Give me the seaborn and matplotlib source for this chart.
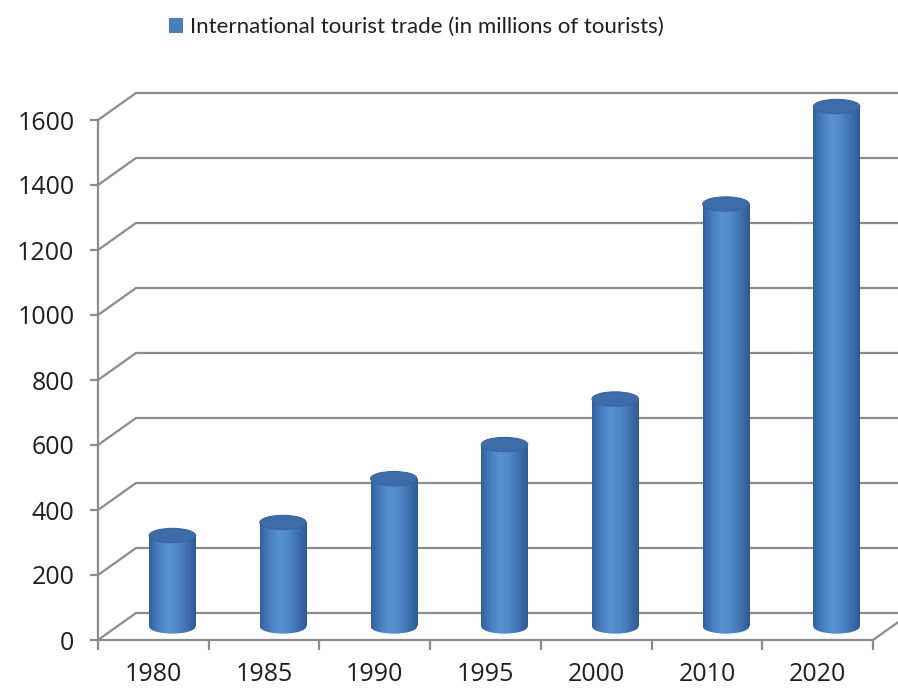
import numpy as np
import pandas as pd
import matplotlib
matplotlib.use("Agg")
import matplotlib.pyplot as plt
from matplotlib import font_manager
from matplotlib.colors import LinearSegmentedColormap
from matplotlib.patches import Ellipse, Rectangle, ConnectionPatch, Patch
import seaborn as sns

# ---- data -------------------------------------------------------------
years = ["1980", "1985", "1990", "1995", "2000", "2010", "2020"]
tourists = [280, 320, 455, 560, 700, 1300, 1600]
y_ticks = [0, 200, 400, 600, 800, 1000, 1200, 1400, 1600]
series_label = "International tourist trade (in millions of tourists)"

# ---- style ------------------------------------------------------------
sns.set_theme(style="white")
available = {f.name for f in font_manager.fontManager.ttflist}
tick_font = "Open Sans" if "Open Sans" in available else "DejaVu Sans"
legend_font = "Lato" if "Lato" in available else tick_font
plt.rcParams["font.family"] = [tick_font, "DejaVu Sans"]

GRID = "#8c8c8c"
TEXT = "#1f1f1f"
BAR = "#4a7ebb"
CAP = "#3d6ca9"
body_cmap = LinearSegmentedColormap.from_list(
    "cyl", ["#31619c", "#477dbf", "#5890d2", "#5088ca", "#3f71b0", "#2e5a91"]
)

W, H = 898, 688
DPI = 100
fig = plt.figure(figsize=(W / DPI, H / DPI), dpi=DPI, facecolor="white")

# 3-D box geometry (pixels): front plane, mid plane (bars), back wall
left, bottom, width, height = 98, 640, 775, 520
dx, dy = 38, 27
y_lo, y_hi = 0, 1600
px_per_unit = height / (y_hi - y_lo)


def plane(ox, oy, pad_lo=0.0, pad_hi=0.0):
    extra_lo = pad_lo * px_per_unit
    extra_hi = pad_hi * px_per_unit
    return [(left + ox) / W, 1 - (bottom - oy + extra_lo) / H,
            width / W, (height + extra_lo + extra_hi) / H]


cap_h = 44  # cylinder end ellipse height, data units
ax_back = fig.add_axes(plane(dx, dy), zorder=0)
ax_front = fig.add_axes(plane(0, 0), zorder=1)
ax_mid = fig.add_axes(plane(dx / 2, dy / 2, cap_h, cap_h), zorder=2)

for a in (ax_back, ax_front):
    a.set_xlim(-0.5, len(years) - 0.5)
    a.set_ylim(y_lo, y_hi)
    a.patch.set_alpha(0)
ax_mid.patch.set_alpha(0)

# back wall gridlines
ax_back.set_yticks(y_ticks)
ax_back.set_xticks([])
ax_back.yaxis.grid(True, color=GRID, lw=1.6)
ax_back.tick_params(left=False, labelleft=False)
for s in ax_back.spines.values():
    s.set_visible(False)
for gl in ax_back.get_ygridlines():
    gl.set_clip_on(False)

# front axes: value axis and floor edge
for s in ("top", "right"):
    ax_front.spines[s].set_visible(False)
for s in ("left", "bottom"):
    ax_front.spines[s].set_color(GRID)
    ax_front.spines[s].set_linewidth(1.6)
ax_front.set_yticks(y_ticks)
ax_front.set_yticklabels([str(v) for v in y_ticks])
ax_front.set_xticks(range(len(years)))
ax_front.set_xticklabels(years)
ax_front.set_xticks(np.arange(-0.5, len(years)), minor=True)
ax_front.tick_params(axis="y", direction="out", length=6, width=1.6, color=GRID,
                     labelsize=18, labelcolor=TEXT, pad=11, left=True)
ax_front.tick_params(axis="x", which="major", length=0, labelsize=18,
                     labelcolor=TEXT, pad=16, bottom=True)
ax_front.tick_params(axis="x", which="minor", direction="out", length=7,
                     width=1.6, color=GRID, bottom=True)

# side wall / floor diagonals
for v in y_ticks:
    fig.add_artist(ConnectionPatch(xyA=(-0.5, v), coordsA=ax_front.transData,
                                   xyB=(-0.5, v), coordsB=ax_back.transData,
                                   color=GRID, lw=1.6))
fig.add_artist(ConnectionPatch(xyA=(len(years) - 0.5, 0), coordsA=ax_front.transData,
                               xyB=(len(years) - 0.5, 0), coordsB=ax_back.transData,
                               color=GRID, lw=1.6))

# ---- cylinders ---------------------------------------------------------
df = pd.DataFrame({"year": years, "tourists": tourists})
sns.barplot(data=df, x="year", y="tourists", ax=ax_mid, color=BAR, width=0.42,
            saturation=1)
ax_mid.set_axis_off()

grad = np.linspace(0, 1, 256).reshape(1, -1)
for bar in ax_mid.patches:
    x0, w, h = bar.get_x(), bar.get_width(), bar.get_height()
    xc = x0 + w / 2
    bar.set_visible(False)
    body = Rectangle((x0, 0), w, h, transform=ax_mid.transData)
    im = ax_mid.imshow(grad, extent=(x0, x0 + w, 0, h), aspect="auto",
                       cmap=body_cmap, interpolation="bilinear", zorder=2)
    im.set_clip_path(body)
    base = Ellipse((xc, 0), w, cap_h, transform=ax_mid.transData)
    im2 = ax_mid.imshow(grad, extent=(x0, x0 + w, -cap_h / 2, 0), aspect="auto",
                        cmap=body_cmap, interpolation="bilinear", zorder=2)
    im2.set_clip_path(base)
    top = Ellipse((xc, h), w, cap_h, facecolor=CAP, edgecolor="#36659f",
                  lw=0.8, zorder=3)
    ax_mid.add_patch(top)

ax_mid.set_xlim(-0.5, len(years) - 0.5)
ax_mid.set_ylim(y_lo - cap_h, y_hi + cap_h)

# legend
fig.legend(handles=[Patch(facecolor=BAR, edgecolor="none")], labels=[series_label],
           loc="center left", bbox_to_anchor=(149 / W, 1 - 27 / H), frameon=False,
           handlelength=0.65, handleheight=0.65, handletextpad=0.3,
           prop={"family": [legend_font, "DejaVu Sans"], "size": 16},
           labelcolor=TEXT)

fig.savefig("out.png", dpi=DPI, facecolor="white")
